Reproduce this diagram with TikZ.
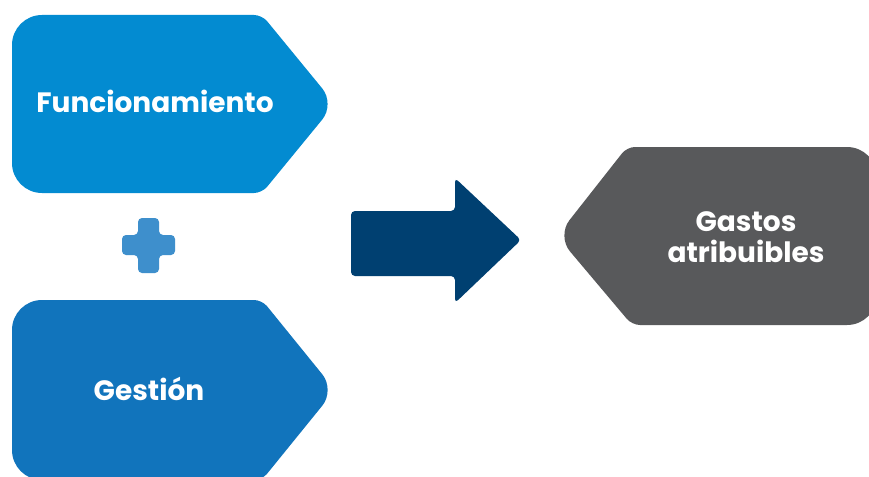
\documentclass[tikz,border=0pt]{standalone}
\usepackage{fontspec}
\setmainfont{Poppins}
\usepackage{tikz}

\definecolor{funcblue}{RGB}{3,139,209}
\definecolor{gestblue}{RGB}{17,116,188}
\definecolor{plusblue}{RGB}{62,143,204}
\definecolor{arrowblue}{RGB}{0,64,113}
\definecolor{gastgray}{RGB}{88,89,91}

\tikzset{
    lbl/.style={text=white, font=\fontsize{28}{31}\selectfont\bfseries, align=center, inner sep=0pt},
}

\begin{document}
\begin{tikzpicture}[x=1pt, y=-1pt]
    \clip (0,0) rectangle (869,476);
    \fill[white] (0,0) rectangle (869,476);

    % Funcionamiento tag
    \fill[funcblue] (12,104) [rounded corners=30] -- (12,15) [rounded corners=8] -- (262,15)
        [rounded corners=20] -- (335,104) [rounded corners=8] -- (262,193)
        [rounded corners=30] -- (12,193) -- cycle;
    \node[lbl] (func) at (155,101) {Funcionamiento};

    % plus sign
    \fill[plusblue, rounded corners=4] (138,218) -- (159,218) -- (159,235) -- (175,235)
        -- (175,255) -- (159,255) -- (159,273) -- (138,273) -- (138,255) -- (122,255)
        -- (122,235) -- (138,235) -- cycle;

    % Gestion tag
    \fill[gestblue] (12,390) [rounded corners=30] -- (12,300) [rounded corners=8] -- (262,300)
        [rounded corners=20] -- (335,390) [rounded corners=8] -- (262,480)
        [rounded corners=30] -- (12,480) -- cycle;
    \node[lbl] (gest) at (149,389) {Gestión};

    % big arrow
    \fill[arrowblue, rounded corners=4] (351,211) -- (455,211) -- (455,178) -- (521,240)
        -- (455,303) -- (455,276) -- (351,276) -- cycle;

    % Gastos atribuibles tag
    \fill[gastgray] (877,236) [rounded corners=30] -- (877,147) [rounded corners=8] -- (627,147)
        [rounded corners=20] -- (557,236) [rounded corners=8] -- (632,325)
        [rounded corners=30] -- (877,325) -- cycle;
    \node[lbl] (gast) at (746,237) {Gastos\\atribuibles};
\end{tikzpicture}
\end{document}
